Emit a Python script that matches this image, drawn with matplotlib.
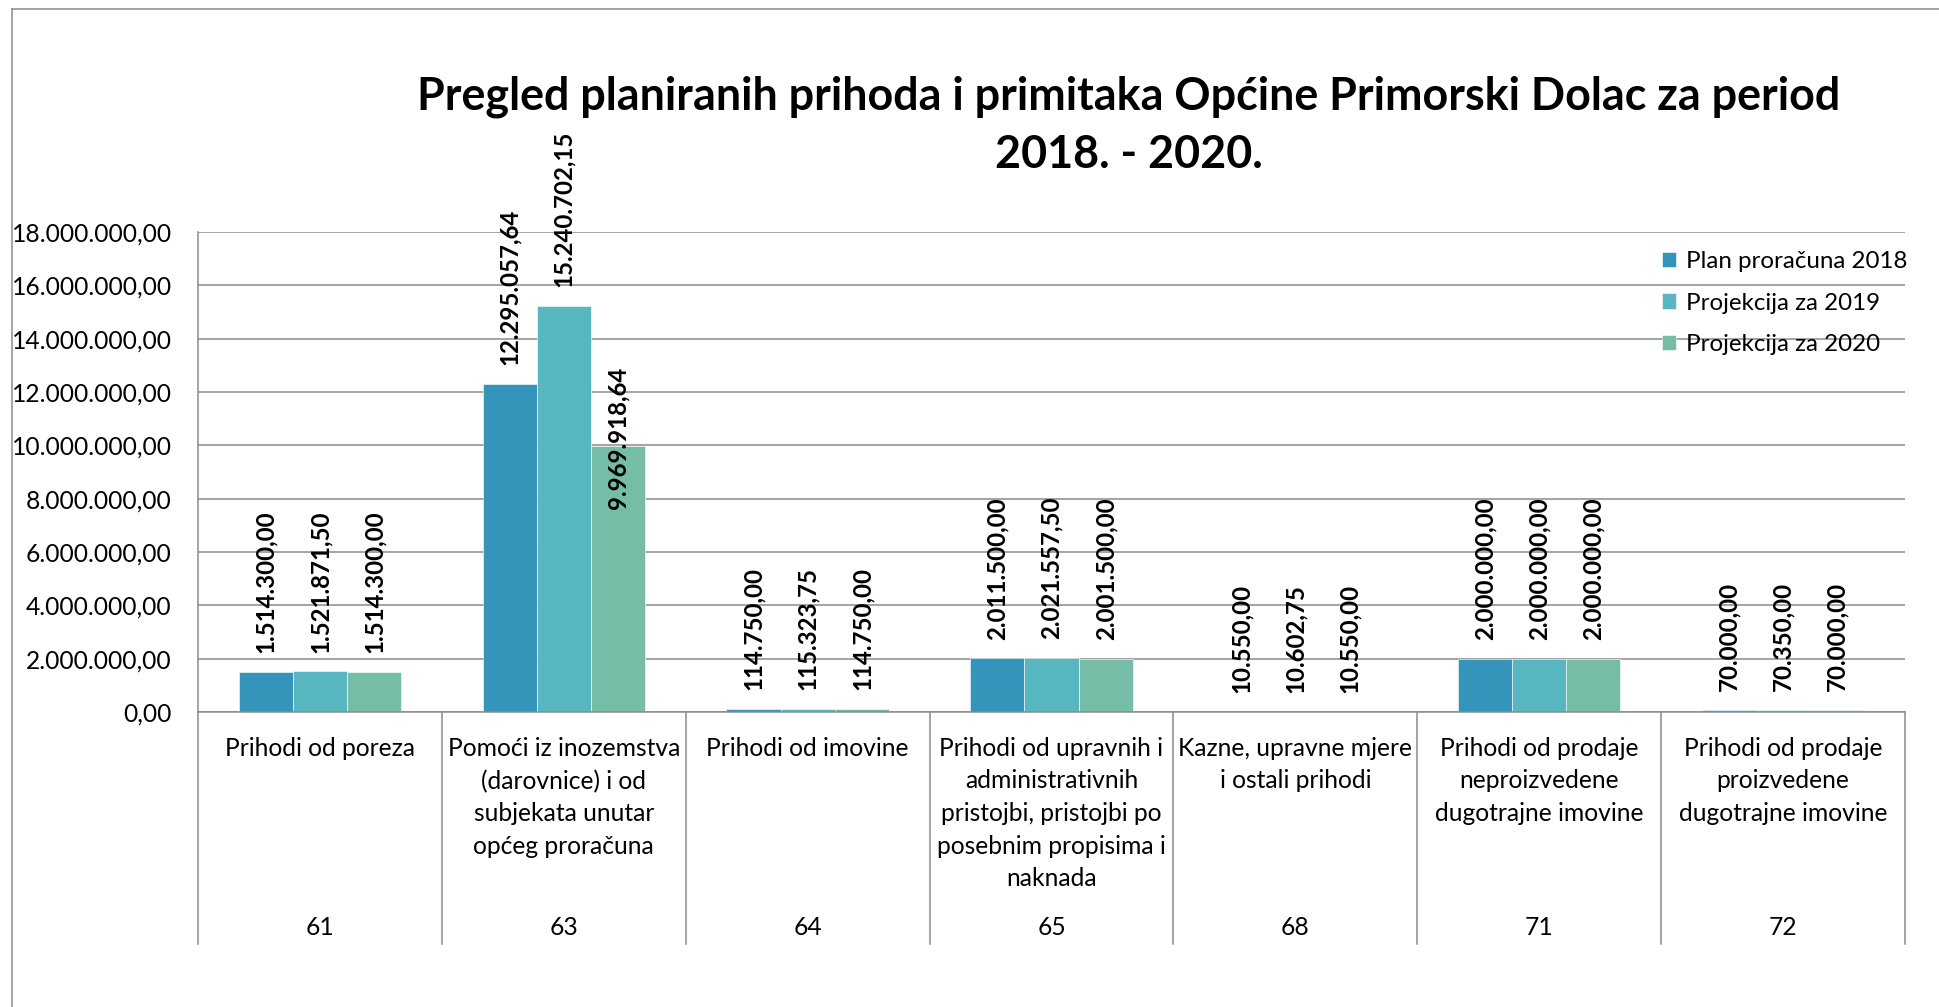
import matplotlib.pyplot as plt
from matplotlib.lines import Line2D
from matplotlib.ticker import FuncFormatter
import numpy as np

plt.rcParams['font.family'] = ['Lato', 'DejaVu Sans']

# data
codes = ['61', '63', '64', '65', '68', '71', '72']
categories = ['Prihodi od poreza',
              'Pomoći iz inozemstva\n(darovnice) i od\nsubjekata unutar\nopćeg proračuna',
              'Prihodi od imovine',
              'Prihodi od upravnih i\nadministrativnih\npristojbi, pristojbi po\nposebnim propisima i\nnaknada',
              'Kazne, upravne mjere\ni ostali prihodi',
              'Prihodi od prodaje\nneproizvedene\ndugotrajne imovine',
              'Prihodi od prodaje\nproizvedene\ndugotrajne imovine']
plan_2018 = [1514300.00, 12295057.64, 114750.00, 2011500.00, 10550.00, 2000000.00, 70000.00]
proj_2019 = [1521871.50, 15240702.15, 115323.75, 2021557.50, 10602.75, 2000000.00, 70350.00]
proj_2020 = [1514300.00, 9969918.64, 114750.00, 2001500.00, 10550.00, 2000000.00, 70000.00]
series_names = ['Plan proračuna 2018', 'Projekcija za 2019', 'Projekcija za 2020']
colors = ['#3494BA', '#58B6C0', '#75BDA7']
title_lines = ['Pregled planiranih prihoda i primitaka Općine Primorski Dolac za period',
               '2018. - 2020.']


def hr_fmt(v):
    s = '{:,.2f}'.format(v)
    return s.replace(',', 'X').replace('.', ',').replace('X', '.')


grid_c = '#8C8C8C'
fs = 17.7
lab_fs = 17.3
cat_fs = 17.7

fig = plt.figure(figsize=(19.4, 10.07), dpi=100)
ax = fig.add_axes([198/1940, 1 - 712/1007, (1905-198)/1940, (712-232)/1007])

x = np.arange(len(codes))
w = 0.2222
all_series = [plan_2018, proj_2019, proj_2020]
for i, (vals, name, c) in enumerate(zip(all_series, series_names, colors)):
    bars = ax.bar(x + (i - 1) * w, vals, width=w, color=c, label=name,
                  edgecolor='white', linewidth=0.4, zorder=2)
    for j, (b, v) in enumerate(zip(bars, vals)):
        off = 13.5
        if i == 2 and j == 1:
            off = -45  # this one sits on top of the bar in the original
        ax.annotate(hr_fmt(v), (b.get_x() + b.get_width()/2, v),
                    xytext=(0, off), textcoords='offset points',
                    rotation=90, ha='center', va='bottom',
                    fontsize=lab_fs, fontweight='bold', zorder=4)

ax.set_ylim(0, 18000000)
ax.set_xlim(-0.5, len(codes) - 0.5)
ax.set_yticks(np.arange(0, 18000001, 2000000))
ax.yaxis.set_major_formatter(FuncFormatter(lambda v, p: hr_fmt(v)))
ax.tick_params(axis='y', length=0, pad=19, labelsize=fs)
ax.tick_params(axis='x', length=0, labelbottom=False)
ax.grid(axis='y', color=grid_c, linewidth=1.1, zorder=0)
ax.set_axisbelow(True)
for s in ['top', 'right']:
    ax.spines[s].set_visible(False)
for s in ['left', 'bottom']:
    ax.spines[s].set_color(grid_c)
    ax.spines[s].set_linewidth(1.1)

# multi-level category axis drawn as a table under the plot
tr = ax.get_xaxis_transform()
depth = (944 - 712) / (712 - 232)
for b in np.arange(-0.5, len(codes), 1.0):
    ax.add_line(Line2D([b, b], [0, -depth], transform=tr, color=grid_c,
                       linewidth=1.1, clip_on=False))
cat_top = -(737 - 712) / (712 - 232)
code_y = -(928 - 712) / (712 - 232)
for xi, cat, code in zip(x, categories, codes):
    ax.text(xi, cat_top, cat, transform=tr, ha='center', va='top',
            fontsize=cat_fs, linespacing=1.5, clip_on=False)
    ax.text(xi, code_y, code, transform=tr, ha='center', va='center',
            fontsize=cat_fs, clip_on=False)

leg = ax.legend(loc='upper left', bbox_to_anchor=(1662/1940, 1 - 251/1007),
                bbox_transform=fig.transFigure, frameon=False, fontsize=17.4,
                handlelength=0.6, handleheight=0.6, handletextpad=0.4,
                labelspacing=0.85, borderpad=0, borderaxespad=0)

# title, one text per line so the second line does not widen the first
for line, base in zip(title_lines, [109, 168]):
    fig.text(1129/1940, 1 - base/1007, line, ha='center', va='baseline',
             fontsize=32.3, fontweight='bold')

# chart area border (left and top visible)
fig.add_artist(Line2D([12/1940, 12/1940], [0, 1 - 9/1007], transform=fig.transFigure,
                      color=grid_c, linewidth=1.1))
fig.add_artist(Line2D([12/1940, 1], [1 - 9/1007, 1 - 9/1007], transform=fig.transFigure,
                      color=grid_c, linewidth=1.1))

fig.savefig('out.png', dpi=100)
